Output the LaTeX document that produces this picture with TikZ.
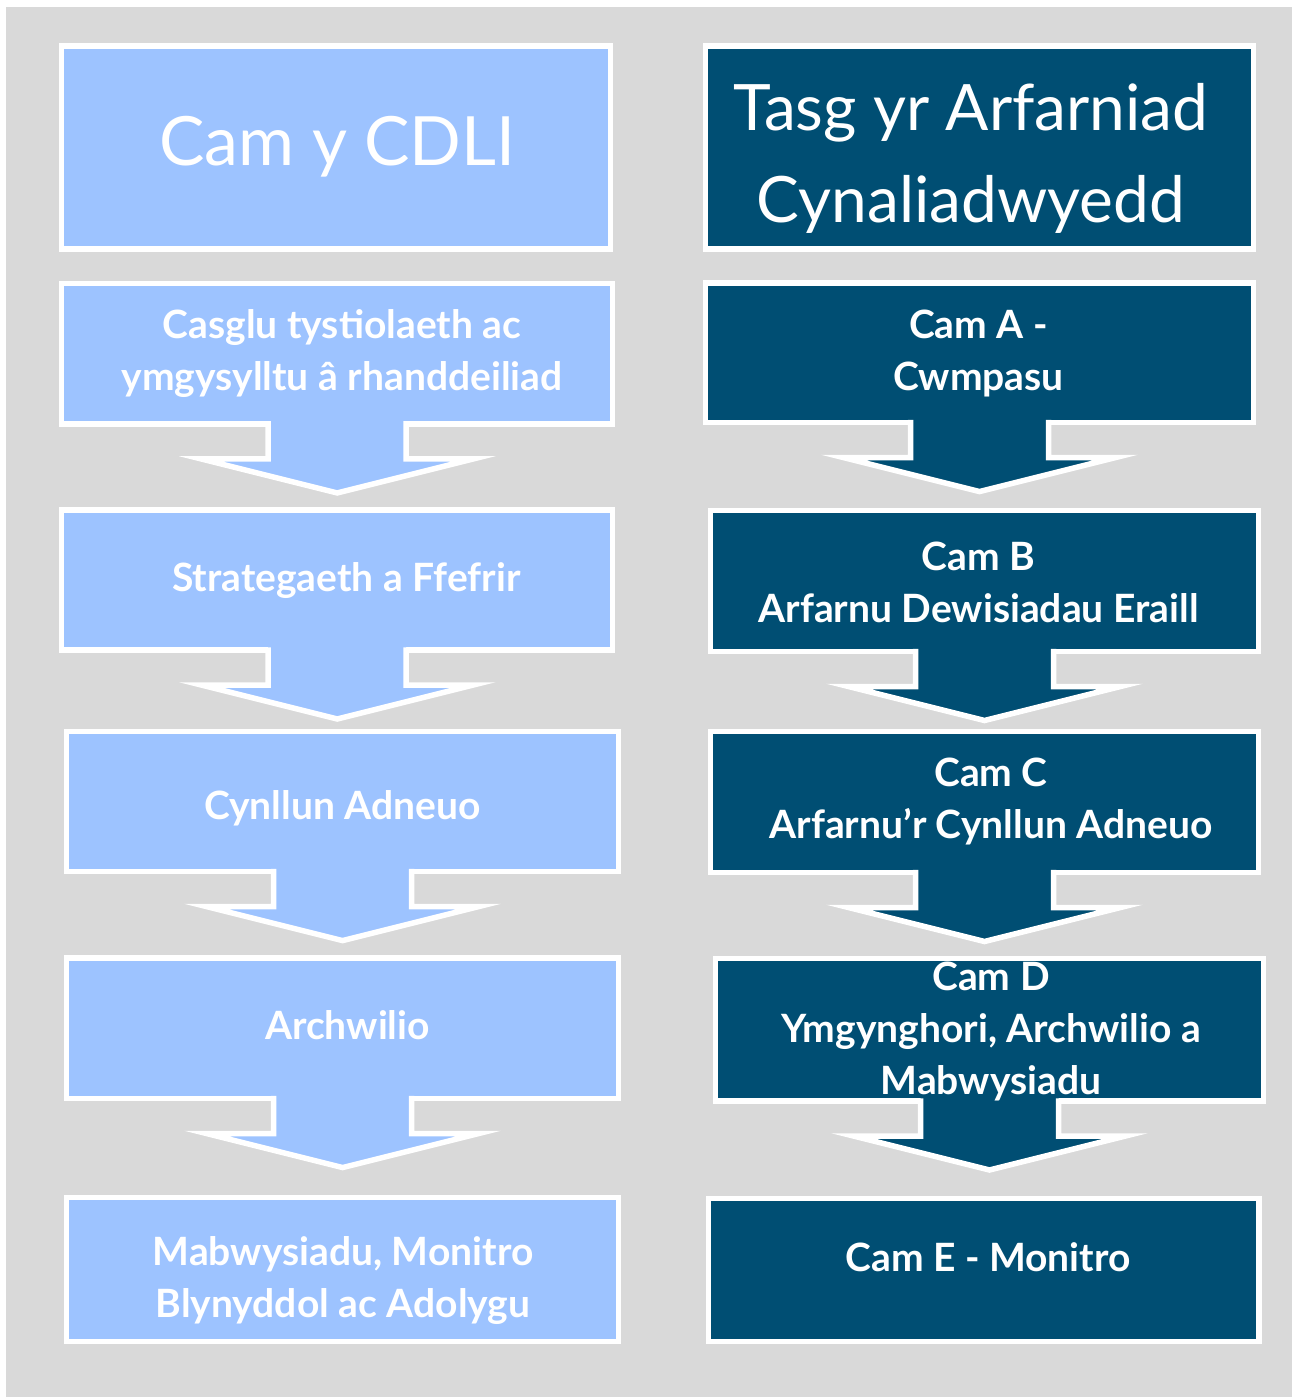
\documentclass[tikz,border=0pt]{standalone}
\usepackage{fontspec}
\setmainfont{Lato}
\definecolor{lb}{RGB}{157,195,255}
\definecolor{db}{RGB}{0,78,115}
\definecolor{bgg}{RGB}{217,217,217}
\newcommand\txtlines[1]{\parbox[t]{600pt}{\centering #1}}
\newcommand\blockarrow[2]{%
  \begin{scope}[shift={(#1.south)}]
    \fill[#2] (-69,-3.5) -- (-69,35) -- (-136,35) -- (0,69) -- (136,35) -- (69,35) -- (69,-3.5) -- cycle;
    \draw[white, line width=5.5pt, line join=miter] (-69,-2.75) -- (-69,35) -- (-136,35) -- (0,69) -- (136,35) -- (69,35) -- (69,-2.75);
  \end{scope}}
\begin{document}
\begin{tikzpicture}[x=1pt,y=-1pt,
  lbox/.style={draw=white, line width=5.5pt, fill=lb, inner sep=0pt, outer sep=0pt},
  dbox/.style={draw=white, line width=5.5pt, fill=db, inner sep=0pt, outer sep=0pt},
  ttl/.style={text=white, inner sep=0pt, anchor=base, font=\fontsize{68}{92}\selectfont},
  ttlr/.style={text=white, inner sep=0pt, anchor=base, font=\fontsize{64}{92}\selectfont},
  tx/.style={text=white, inner sep=0pt, anchor=base, font=\bfseries\fontsize{39}{52}\selectfont}]
\useasboundingbox (0,0) rectangle (1292,1397);
\fill[bgg] (6,7) rectangle (1292,1397);
% left column boxes
\node[lbox, minimum width=549pt, minimum height=203pt] (LT) at (336.1,147.7) {};
\node[lbox, minimum width=551pt, minimum height=140.5pt] (L1) at (337.2,353.7) {};
\node[lbox, minimum width=551pt, minimum height=140pt] (L2) at (337.2,580) {};
\node[lbox, minimum width=552pt, minimum height=140pt] (L3) at (342.6,801.6) {};
\node[lbox, minimum width=552pt, minimum height=140.5pt] (L4) at (342.6,1028.3) {};
\node[lbox, minimum width=552pt, minimum height=144pt] (L5) at (342.6,1269.5) {};
% right column boxes
\node[dbox, minimum width=548pt, minimum height=203pt] (RT) at (979.5,147.6) {};
\node[dbox, minimum width=548pt, minimum height=139.5pt] (R1) at (979.5,352.8) {};
\node[dbox, minimum width=548pt, minimum height=141pt] (R2) at (984.5,581) {};
\node[dbox, minimum width=548pt, minimum height=141pt] (R3) at (984.5,802) {};
\node[dbox, minimum width=548pt, minimum height=142.5pt] (R4) at (989.5,1029.75) {};
\node[dbox, minimum width=550.5pt, minimum height=143pt] (R5) at (983.75,1270) {};
% block arrows
\blockarrow{L1}{lb}
\blockarrow{L2}{lb}
\blockarrow{L3}{lb}
\blockarrow{L4}{lb}
\blockarrow{R1}{db}
\blockarrow{R2}{db}
\blockarrow{R3}{db}
\blockarrow{R4}{db}
% texts
\node[ttl] (LTt) at (337.5,165) {Cam y CDLI};
\node[ttlr] (RTt) at (971,130) {\txtlines{Tasg yr Arfarniad\\Cynaliadwyedd}};
\node[tx] (L1t) at (342,338) {\txtlines{Casglu tystiolaeth ac\\ymgysylltu â rhanddeiliad}};
\node[tx] (L2t) at (346.5,591) {Strategaeth a Ffefrir};
\node[tx] (L3t) at (342.5,819) {Cynllun Adneuo};
\node[tx] (L4t) at (347.5,1039) {Archwilio};
\node[tx] (L5t) at (343,1265) {\txtlines{Mabwysiadu, Monitro\\Blynyddol ac Adolygu}};
\node[tx] (R1t) at (978.5,338) {\txtlines{Cam A -\\Cwmpasu}};
\node[tx] (R2t) at (978.5,570) {\txtlines{Cam B\\Arfarnu Dewisiadau Eraill}};
\node[tx] (R3t) at (991,786) {\txtlines{Cam C\\Arfarnu'r Cynllun Adneuo}};
\node[tx] (R4t) at (991,990) {\txtlines{Cam D\\Ymgynghori, Archwilio a\\Mabwysiadu}};
\node[tx] (R5t) at (988,1271) {Cam E - Monitro};
\end{tikzpicture}
\end{document}
